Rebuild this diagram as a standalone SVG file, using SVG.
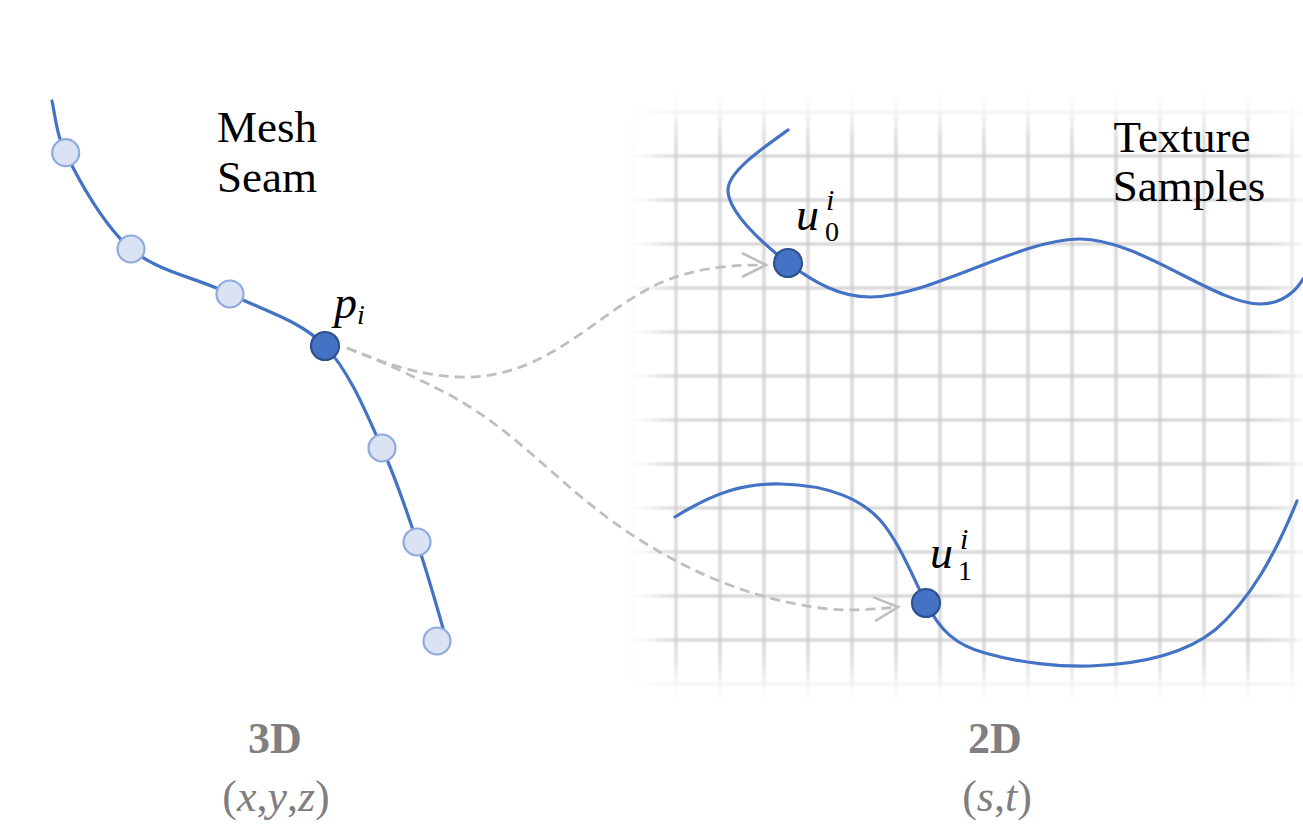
<svg xmlns="http://www.w3.org/2000/svg" width="1303" height="828" viewBox="0 0 1303 828">
<style>
.seam{fill:none;stroke:#4472c4;stroke-width:3.2;stroke-linecap:round}
.lt{fill:#dae3f3;stroke:#8faadc;stroke-width:2.2}
.dk{fill:#4472c4;stroke:#2f528f;stroke-width:2.2}
.dash{fill:none;stroke:#bfbfbf;stroke-width:2.8;stroke-dasharray:10 6}
.grid line{stroke:#cbcbcb;stroke-width:2.6}
</style>
<defs>
<filter id="soft" x="-5%" y="-5%" width="110%" height="110%"><feGaussianBlur stdDeviation="1.1"/></filter>
<filter id="fade" x="-20%" y="-20%" width="140%" height="140%"><feGaussianBlur stdDeviation="16"/></filter>
<mask id="gridmask" maskUnits="userSpaceOnUse" x="0" y="0" width="1303" height="828">
<rect x="655" y="122" width="636" height="552" fill="#fff" filter="url(#fade)"/>
</mask>
<marker id="arr" markerUnits="userSpaceOnUse" markerWidth="32" markerHeight="32" refX="27" refY="15" orient="auto">
<path d="M3,3 L27,15 L3,27" fill="none" stroke="#bfbfbf" stroke-width="2.6" stroke-dasharray="none"/>
</marker>
</defs>
<rect width="1303" height="828" fill="#fff"/>
<g id="grid" class="grid" mask="url(#gridmask)">
<g filter="url(#soft)">
<line x1="632" y1="90" x2="632" y2="705"/><line x1="676" y1="90" x2="676" y2="705"/><line x1="720" y1="90" x2="720" y2="705"/><line x1="764" y1="90" x2="764" y2="705"/><line x1="808" y1="90" x2="808" y2="705"/><line x1="852" y1="90" x2="852" y2="705"/><line x1="896" y1="90" x2="896" y2="705"/><line x1="940" y1="90" x2="940" y2="705"/><line x1="984" y1="90" x2="984" y2="705"/><line x1="1028" y1="90" x2="1028" y2="705"/><line x1="1072" y1="90" x2="1072" y2="705"/><line x1="1116" y1="90" x2="1116" y2="705"/><line x1="1160" y1="90" x2="1160" y2="705"/><line x1="1204" y1="90" x2="1204" y2="705"/><line x1="1248" y1="90" x2="1248" y2="705"/><line x1="1292" y1="90" x2="1292" y2="705"/>
<line x1="615" y1="112" x2="1303" y2="112"/><line x1="615" y1="156" x2="1303" y2="156"/><line x1="615" y1="200" x2="1303" y2="200"/><line x1="615" y1="244" x2="1303" y2="244"/><line x1="615" y1="288" x2="1303" y2="288"/><line x1="615" y1="332" x2="1303" y2="332"/><line x1="615" y1="376" x2="1303" y2="376"/><line x1="615" y1="420" x2="1303" y2="420"/><line x1="615" y1="464" x2="1303" y2="464"/><line x1="615" y1="508" x2="1303" y2="508"/><line x1="615" y1="552" x2="1303" y2="552"/><line x1="615" y1="596" x2="1303" y2="596"/><line x1="615" y1="640" x2="1303" y2="640"/><line x1="615" y1="684" x2="1303" y2="684"/>
</g>
</g>
<g id="connectors">
<path class="dash" d="M347,348 C390,366 430,378 470,377 C550,375 600,310 660,283 C700,266 735,265 766,265" marker-end="url(#arr)"/>
<path class="dash" d="M347,348 C380,360 410,375 440,390 C520,430 560,490 640,540 C700,578 760,600 820,608 C850,612 875,609 898,607" marker-end="url(#arr)"/>
</g>
<g id="mesh-seam">
<path class="seam" d="M52,101 C55,114 57,139 65.7,152.7 C78,179 104,226 131,249 C158,272 198,278 230,294 C262,310 300,320 325,346 C350,372 367,415 382,448 C397,481 407,512 417,542 C427,572 439,614 443,628"/>
<circle class="lt" cx="65.7" cy="152.7" r="13.5"/>
<circle class="lt" cx="131" cy="249" r="13.5"/>
<circle class="lt" cx="230" cy="294" r="13.5"/>
<circle class="lt" cx="382" cy="448" r="13.5"/>
<circle class="lt" cx="417" cy="542" r="13.5"/>
<circle class="lt" cx="437" cy="641" r="13.5"/>
</g>
<g id="p-i" font-family="'Liberation Serif', 'Times New Roman', serif" font-style="italic">
<circle class="dk" cx="325" cy="346" r="14"/>
<text x="334" y="318" font-size="46">p<tspan font-size="28" dy="6">i</tspan></text>
</g>
<g id="curve-top">
<path class="seam" d="M788,130 C760,150 728,172 728,190 C728,212 762,243 788,263 C815,283 840,297 870,297 C930,297 1020,239 1080,239 C1140,239 1215,304 1260,304 C1283,304 1297,290 1305,276"/>
</g>
<g id="u0" font-family="'Liberation Serif', 'Times New Roman', serif">
<circle class="dk" cx="788" cy="263" r="14"/>
<text x="796" y="230" font-size="46" font-style="italic">u</text>
<text x="826" y="210" font-size="30" font-style="italic">i</text>
<text x="825" y="241" font-size="28">0</text>
</g>
<g id="curve-bottom">
<path class="seam" d="M675,517 C715,492 745,483 781,484 C830,485 862,500 880,520 C898,540 912,575 926,603 C940,630 955,645 985,653 C1020,663 1060,667 1090,666 C1150,664 1190,650 1215,630 C1250,600 1275,555 1297,501"/>
</g>
<g id="u1" font-family="'Liberation Serif', 'Times New Roman', serif">
<circle class="dk" cx="926" cy="603" r="14"/>
<text x="930" y="568" font-size="46" font-style="italic">u</text>
<text x="960" y="549" font-size="30" font-style="italic">i</text>
<text x="958" y="580" font-size="28">1</text>
</g>
<g id="label-mesh" font-family="'Liberation Serif', 'Times New Roman', serif" font-size="45">
<text x="217" y="142">Mesh</text>
<text x="217" y="192">Seam</text>
</g>
<g id="label-texture" font-family="'Liberation Serif', 'Times New Roman', serif" font-size="45" text-anchor="middle">
<text x="1182" y="152">Texture</text>
<text x="1189" y="201">Samples</text>
</g>
<g id="label-3d" font-family="'Liberation Serif', 'Times New Roman', serif" fill="#7f7f7f" text-anchor="middle" font-size="44">
<text x="275" y="753" font-weight="bold">3D</text>
<text x="276" y="811">(<tspan font-style="italic">x</tspan>,<tspan font-style="italic">y</tspan>,<tspan font-style="italic">z</tspan>)</text>
</g>
<g id="label-2d" font-family="'Liberation Serif', 'Times New Roman', serif" fill="#7f7f7f" text-anchor="middle" font-size="44">
<text x="995" y="753" font-weight="bold">2D</text>
<text x="997" y="811">(<tspan font-style="italic">s</tspan>,<tspan font-style="italic">t</tspan>)</text>
</g>
</svg>
